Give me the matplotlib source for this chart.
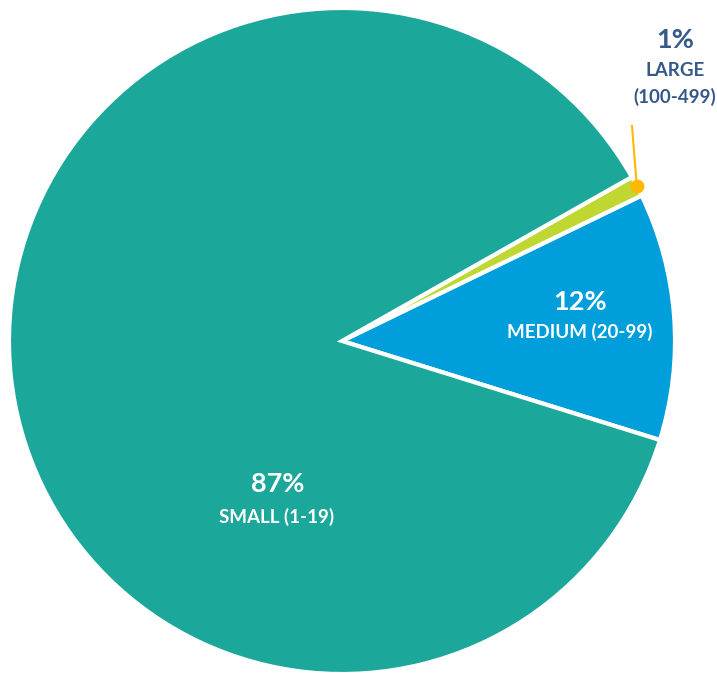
import numpy as np
import matplotlib.pyplot as plt

# company size shares
categories = ["MEDIUM (20-99)", "LARGE\n(100-499)", "SMALL (1-19)"]
shares = [12, 1, 87]
pct_labels = ["12%", "1%", "87%"]
colors = ["#009FDB", "#BFD730", "#1BA89B"]

W, H = 717, 675
cx, cy, R = 342, 341, 333  # pie centre / radius in pixels

fig = plt.figure(figsize=(W / 100, H / 100), dpi=100)
ax = fig.add_axes([0, 0, 1, 1])

wedges, _ = ax.pie(shares, colors=colors, startangle=-17.3, counterclock=True,
                   radius=1, center=(0, 0),
                   wedgeprops=dict(edgecolor="white", linewidth=3))
ax.set_aspect("auto")
ax.set_xlim(-cx / R, (W - cx) / R)
ax.set_ylim(-(H - cy) / R, cy / R)
ax.axis("off")


def px(x, y):
    # pixel position (from top-left) -> data coords
    return (x - cx) / R, (cy - y) / R


font = "Lato"
white = "white"
blue = "#36598A"
big, small = 19.5, 13.5

# small
ax.text(*px(278, 484), pct_labels[2], color=white, fontsize=big, fontweight="bold",
        family=font, ha="center", va="center")
ax.text(*px(277, 517), categories[2], color=white, fontsize=small, fontweight="bold",
        family=font, ha="center", va="center")

# medium
ax.text(*px(580, 302), pct_labels[0], color=white, fontsize=big, fontweight="bold",
        family=font, ha="center", va="center")
ax.text(*px(580, 332), categories[0], color=white, fontsize=small, fontweight="bold",
        family=font, ha="center", va="center")

# large, outside with leader line
ax.text(*px(675, 40), pct_labels[1], color=blue, fontsize=big, fontweight="bold",
        family=font, ha="center", va="center")
ax.text(*px(675, 84), categories[1], color=blue, fontsize=small, fontweight="bold",
        family=font, ha="center", va="center", linespacing=1.55)

w = wedges[1]
mid = np.deg2rad((w.theta1 + w.theta2) / 2)
ex, ey = np.cos(mid), np.sin(mid)
tx, ty = px(632, 126)
ax.plot([tx, ex], [ty, ey], color="#FFB900", lw=1.5, zorder=5)
ax.plot([ex], [ey], "o", color="#FFB900", ms=9, zorder=6)

fig.savefig("out.png", dpi=100)
